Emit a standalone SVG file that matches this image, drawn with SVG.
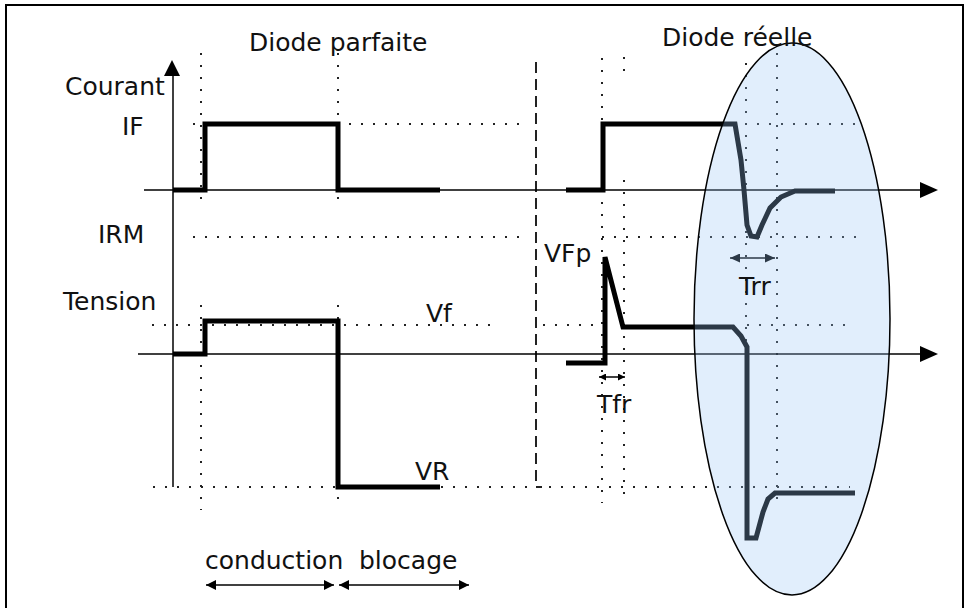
<svg xmlns="http://www.w3.org/2000/svg" width="965" height="608" viewBox="0 0 965 608">
  <style>
    text { font-family: "DejaVu Sans", "Liberation Sans", sans-serif; font-size: 25px; fill: #111; }
    .dot { fill: none; stroke: #222; stroke-width: 2; stroke-dasharray: 2 10; }
    .dash { fill: none; stroke: #222; stroke-width: 2; stroke-dasharray: 11 6; }
    .axis { fill: none; stroke: #000; stroke-width: 1.5; }
    .wave { fill: none; stroke: #000; stroke-width: 5; stroke-linejoin: miter; }
    .thin { fill: none; stroke: #000; stroke-width: 1.5; }
  </style>
  <defs>
    <marker id="ah" viewBox="0 0 10 10" refX="10" refY="5" markerWidth="10" markerHeight="10" markerUnits="userSpaceOnUse" orient="auto-start-reverse">
      <path d="M0,0 L10,5 L0,10 Z" fill="#000"/>
    </marker>
    <marker id="ahm" viewBox="0 0 10 10" refX="10" refY="5" markerWidth="10" markerHeight="9" markerUnits="userSpaceOnUse" orient="auto-start-reverse" preserveAspectRatio="none">
      <path d="M0,0 L10,5 L0,10 Z" fill="#000"/>
    </marker>
    <marker id="ahs" viewBox="0 0 10 10" refX="10" refY="5" markerWidth="7" markerHeight="7" markerUnits="userSpaceOnUse" orient="auto-start-reverse">
      <path d="M0,0 L10,5 L0,10 Z" fill="#000"/>
    </marker>
  </defs>
  <rect width="965" height="608" fill="#fff"/>
  <path d="M6,608 V5 H963 V608" fill="none" stroke="#000" stroke-width="2"/>

  <g id="grid">
    <path class="dot" d="M201,53 V205 M201,305 V510"/>
    <path class="dot" d="M338,53 V205 M338,305 V500"/>
    <path class="dot" d="M602,58 V503"/>
    <path class="dot" d="M624,57 V80 M624,180 V503"/>
    <path class="dot" d="M746,63 V347"/>
    <path class="dot" d="M777,53 V507"/>
    <path class="dot" d="M193,124 H527 M745,124 H858"/>
    <path class="dot" d="M193,237 H527 M602,237 H858"/>
    <path class="dot" d="M152,325 H490 M543,325 H600 M747,325 H850"/>
    <path class="dot" d="M153,487 H850"/>
    <path class="dash" d="M536,62 V487 H542"/>
  </g>

  <g id="axes">
    <path class="axis" d="M173,487 V70"/>
    <path d="M172,60 L164,76 L180,76 Z" fill="#000"/>
    <path class="axis" d="M144,190 H922"/>
    <path d="M938,190 L920,182 L920,198 Z" fill="#000"/>
    <path class="axis" d="M138,354 H922"/>
    <path d="M938,354 L920,346 L920,362 Z" fill="#000"/>
  </g>

  <g id="ideal-waves">
    <path class="wave" d="M173,190 H205 V124 H338 V190 H440"/>
    <path class="wave" d="M173,354 H205 V321 H338 V487 H440"/>
  </g>

  <g id="real-waves">
    <path class="wave" d="M566,190 H603 V124 H735 L741,160 L744,190 L747,225 L751,236 L757,237 L762,225 L770,208 L781,197 L795,191 L835,191"/>
    <path class="wave" d="M566,363 H605 V257 L623,327 H733 L741,336 L747,347 V538 H756 L763,512 L768,499 L775,493 H855"/>
  </g>

  <g id="markers">
    <path class="thin" d="M730,258 H775" stroke-width="2" marker-start="url(#ahm)" marker-end="url(#ahm)"/>
    <path class="thin" d="M599,377 H625" marker-start="url(#ahs)" marker-end="url(#ahs)"/>
    <path class="thin" d="M206,585 H334" marker-start="url(#ah)" marker-end="url(#ah)"/>
    <path class="thin" d="M339,585 H469" marker-start="url(#ah)" marker-end="url(#ah)"/>
  </g>

  <g id="highlight">
    <ellipse cx="792" cy="319" rx="98" ry="276" fill="rgb(150,197,245)" fill-opacity="0.29" stroke="#000" stroke-width="1.5"/>
  </g>

  <g id="labels">
    <text x="249" y="51">Diode parfaite</text>
    <text x="662" y="46">Diode réelle</text>
    <text x="65" y="95">Courant</text>
    <text x="122" y="135">IF</text>
    <text x="98" y="243">IRM</text>
    <text x="63" y="310">Tension</text>
    <text x="426" y="322">Vf</text>
    <text x="415" y="480">VR</text>
    <text x="544" y="262">VFp</text>
    <text x="739" y="295">Trr</text>
    <text x="597" y="413">Tfr</text>
    <text x="205" y="569">conduction</text>
    <text x="359" y="569">blocage</text>
  </g>
</svg>
